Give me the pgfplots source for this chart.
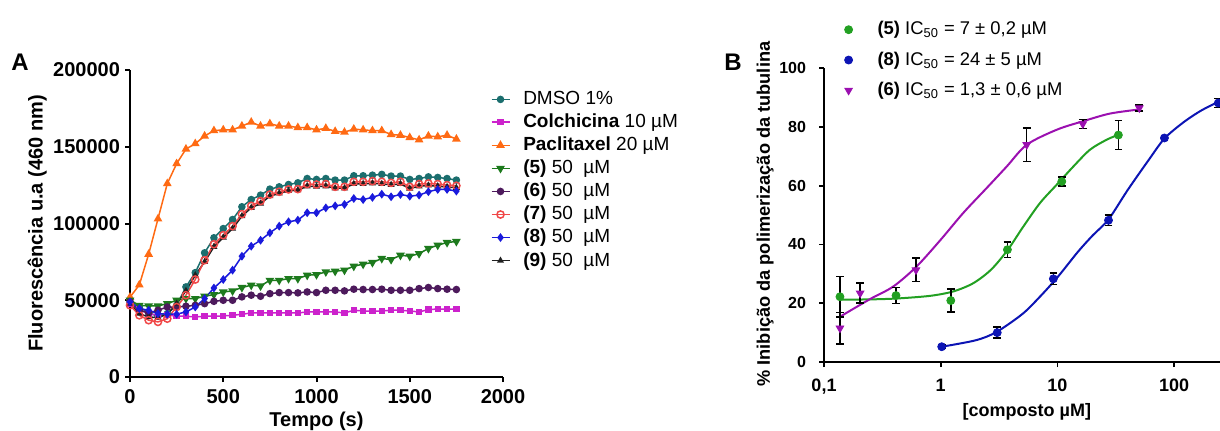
\documentclass[border=0pt]{standalone}
\usepackage{fontspec}
\setmainfont{Liberation Sans}
\usepackage{pgfplots}
\usepackage{pgfplotstable}
\pgfplotsset{compat=1.18}

\definecolor{cDMSO}{RGB}{27,110,110}
\definecolor{cColch}{RGB}{204,34,204}
\definecolor{cPacl}{RGB}{255,106,19}
\definecolor{cFive}{RGB}{29,122,29}
\definecolor{cSix}{RGB}{77,26,92}
\definecolor{cSeven}{RGB}{240,72,72}
\definecolor{cEight}{RGB}{26,26,220}
\definecolor{cNine}{RGB}{32,32,32}
\definecolor{bGreen}{RGB}{34,160,34}
\definecolor{bBlue}{RGB}{12,20,180}
\definecolor{bPurple}{RGB}{155,16,176}

% panel A: fluorescence vs time
\pgfplotstableread{
t dmso colch pacl c5 c6 c7 c8 c9
0 50400 47800 52000 50000 48900 46700 48900 47800
50 45600 43900 60000 46700 43500 40200 44600 41300
100 41700 41300 80000 46300 41700 37000 43500 39100
150 39600 40200 103000 46300 43500 35900 41300 38700
200 41300 40200 126000 47800 45600 38000 40900 40900
250 46700 39800 139000 50000 45600 45600 40900 47800
300 58700 39600 148500 51100 46100 53300 42400 56100
350 68000 39100 152000 51100 46700 63500 45600 66300
400 80900 39600 157000 52600 47800 76100 51100 75000
450 90700 39600 160500 53700 49300 86500 58000 84800
500 96700 39800 161000 55400 50000 92400 63500 90900
550 102600 40200 161000 56100 50000 98300 69600 96700
600 110900 40900 163500 58300 52200 106100 78700 104800
650 115600 41700 166000 59800 53300 111500 85200 110200
700 118500 41700 163500 59300 52600 114600 89100 113000
750 122400 41700 165000 63000 54300 118900 93900 117800
800 123900 41700 163500 63000 55000 120700 98300 119600
850 125400 41700 163500 64100 55000 122200 101100 121300
900 126500 41700 162500 64100 54800 122400 102200 121700
950 129300 42400 162500 66300 55400 125700 107000 124300
1000 128700 42400 161000 66700 55000 125400 107000 124000
1050 129300 42400 162000 68500 56500 125700 110200 124300
1100 128300 42400 160000 68900 56500 123900 111500 123000
1150 128300 41700 159500 69600 56100 123900 112400 123000
1200 131100 43500 161500 72200 57200 127200 116300 125800
1250 131100 43000 161000 73500 57000 127200 115600 125800
1300 131500 43000 160500 74600 57000 127600 117000 126200
1350 132000 43000 160500 77200 57200 127200 119100 125800
1400 130900 43500 158000 76500 56500 126500 117400 125200
1450 130900 43500 157500 79300 56500 127200 118900 125800
1500 128700 43000 156000 78700 56500 123900 117800 122800
1550 129300 42400 154500 80400 57600 125700 118500 124300
1600 130400 43900 157000 83700 58300 126100 120700 124800
1650 130000 44300 156500 85900 57600 125700 122200 124300
1700 129300 44300 157500 87600 57200 125000 122200 123800
1750 128300 44100 155000 88300 57000 124600 121100 123300
}\dataA

% panel B: points with error bars
\pgfplotstableread{
x y e
0.137 22.2 6.9
0.414 22.6 2.7
1.22 20.9 3.85
3.73 38.2 2.7
10.9 61.4 1.5
33.3 77.2 5.0
}\ptFive
\pgfplotstableread{
x y e
1.02 5.2 0.5
3.05 10.0 1.9
9.23 28.3 1.9
27.4 48.2 1.8
82.6 76.2 0.8
239 88.1 1.5
}\ptEight
\pgfplotstableread{
x y e
0.137 11.5 5.4
0.204 23.4 3.4
0.614 31.3 4.0
5.46 73.9 5.7
16.5 81.0 1.5
50.3 86.4 1.0
}\ptSix

% fitted curves
\pgfplotstableread{
x y
0.137 21.2
0.25 21.3
0.42 21.6
0.81 22.5
1.28 24.0
1.9 26.8
2.7 31.4
3.73 38.0
5.11 46.1
7.1 54.1
9.86 60.3
13.7 66.5
19.0 72.2
26.4 75.6
33.3 77.3
}\fitFive
\pgfplotstableread{
x y
1.02 5.2
2 7.4
3 10.2
5 16.3
7 22.0
10 28.8
15 37.5
20 43.0
27.4 48.5
40 58.5
60 68.5
82.6 76.0
120 81.5
170 85.5
239 88.5
300 90.5
}\fitEight
\pgfplotstableread{
x y
0.137 15.4
0.248 21.4
0.393 25.7
0.622 32.5
1.0 41.6
1.56 50.7
2.48 59.2
3.68 66.5
5.46 73.9
9.86 79.0
16.6 81.9
28.2 84.5
50.3 85.9
}\fitSix

\begin{document}
\begin{tikzpicture}
\path[use as bounding box] (0,0) rectangle (610pt,215pt);

\node[font=\fontsize{12}{12}\bfseries\selectfont] at (10pt,184pt) {A};
\node[font=\fontsize{12}{12}\bfseries\selectfont] at (366.5pt,184pt) {B};

\begin{axis}[
 at={(65pt,26.5pt)},anchor=south west,
 scale only axis,width=186.5pt,height=153.5pt,
 xmin=0,xmax=2000,ymin=0,ymax=200000,
 scaled ticks=false,
 axis lines=left,axis line style={-,line width=1pt},
 tick align=outside,major tick length=2.5pt,
 tick style={black,line width=1pt},
 xtick={0,500,1000,1500,2000},xticklabels={0,500,1000,1500,2000},
 ytick={0,50000,100000,150000,200000},yticklabels={0,50000,100000,150000,200000},
 ticklabel style={font=\fontsize{10}{12}\bfseries\selectfont},
 yticklabel style={xshift=1pt},
 xlabel={Tempo (s)},ylabel={Fluorescência u.a (460 nm)},
 every axis x label/.style={at={(axis description cs:0.5,-0.145)},anchor=center,
   font=\fontsize{10}{12}\bfseries\selectfont},
 every axis y label/.style={at={(axis description cs:-0.249,0.5)},rotate=90,anchor=center,
   font=\fontsize{10}{12}\bfseries\selectfont},
 clip=false,
 legend style={at={(0.95,0.945)},anchor=north west,draw=none,fill=none,
   font=\fontsize{9.5}{11}\selectfont,row sep=3.15pt,column sep=6.5pt,
   nodes={inner sep=0pt}},
 legend cell align=left,
 legend image code/.code={\draw[mark repeat=2,mark phase=2] plot coordinates {(0pt,0pt) (4.5pt,0pt) (9pt,0pt)};},
 every axis plot/.append style={line width=0.75pt},
]
\addplot[color=cDMSO,mark=*,mark size=1.5pt] table[x=t,y=dmso]{\dataA};
\addplot[color=cColch,mark=square*,mark size=1.2pt] table[x=t,y=colch]{\dataA};
\addplot[color=cPacl,mark=triangle*,mark size=1.8pt] table[x=t,y=pacl]{\dataA};
\addplot[color=cFive,mark=triangle*,mark size=1.8pt,mark options={rotate=180}] table[x=t,y=c5]{\dataA};
\addplot[color=cSix,mark=*,mark size=1.5pt] table[x=t,y=c6]{\dataA};
\addplot[color=cNine,mark=triangle*,mark size=1.3pt,forget plot] table[x=t,y=c9]{\dataA};
\addplot[color=cSeven,mark=o,mark size=1.8pt] table[x=t,y=c7]{\dataA};
\addplot[color=cEight,mark=diamond*,mark size=1.6pt] table[x=t,y=c8]{\dataA};
\addlegendimage{color=cNine,mark=triangle*,mark size=1.3pt,line width=0.75pt}
\legend{DMSO 1\%,\textbf{Colchicina} 10 µM,\textbf{Paclitaxel} 20 µM,
 \textbf{(5)} 50\ \ µM,\textbf{(6)} 50\ \ µM,\textbf{(7)} 50\ \ µM,
 \textbf{(8)} 50\ \ µM,\textbf{(9)} 50\ \ µM}
\end{axis}

\begin{axis}[
 at={(412pt,34pt)},anchor=south west,
 scale only axis,width=202.9pt,height=147pt,
 xmode=log,xmin=0.1,xmax=300,ymin=0,ymax=100,
 axis lines=left,axis line style={-,line width=0.9pt},
 tick align=outside,major tick length=2.5pt,
 tick style={black,line width=0.9pt},xminorticks=false,
 xtick={0.1,1,10,100},xticklabels={{0,1},1,10,100},
 ytick={0,20,40,60,80,100},yticklabels={0,20,40,60,80,100},
 xticklabel style={font=\fontsize{9}{11}\bfseries\selectfont,yshift=-2.5pt},
 yticklabel style={font=\fontsize{8}{10}\bfseries\selectfont,xshift=-3pt},
 xlabel={{[}composto µM{]}},ylabel={\% Inibição da polimerização da tubulina},
 every axis x label/.style={at={(axis description cs:0.5,-0.17)},anchor=center,
   font=\fontsize{9}{10}\bfseries\selectfont},
 every axis y label/.style={at={(axis description cs:-0.145,0.503)},rotate=90,anchor=center,
   font=\fontsize{9.1}{10}\bfseries\selectfont},
 clip=false,
 legend style={at={(0.035,1.173)},anchor=north west,draw=none,fill=none,
   font=\fontsize{9.2}{11}\selectfont,row sep=7pt,column sep=12.5pt,
   nodes={inner sep=0pt}},
 legend cell align=left,
 legend image code/.code={\draw[mark repeat=2,mark phase=2] plot coordinates {(-3pt,0pt) (0pt,0pt) (3pt,0pt)};},
 errb/.style={error bars/.cd,y dir=both,y explicit,
   error bar style={black,line width=0.75pt},
   error mark options={rotate=90,black,mark size=1.9pt,line width=0.75pt}},
]
\addplot[bGreen,line width=1pt,smooth,forget plot] table[x=x,y=y]{\fitFive};
\addplot[bBlue,line width=1pt,smooth,forget plot] table[x=x,y=y]{\fitEight};
\addplot[bPurple,line width=1pt,smooth,forget plot] table[x=x,y=y]{\fitSix};
\addplot[only marks,color=bGreen,mark=*,mark size=2pt,errb] table[x=x,y=y,y error=e]{\ptFive};
\addlegendentry{\textbf{(5)} IC\textsubscript{50} = 7 ± 0,2 µM}
\addplot[only marks,color=bBlue,mark=*,mark size=2pt,errb] table[x=x,y=y,y error=e]{\ptEight};
\addlegendentry{\textbf{(8)} IC\textsubscript{50} = 24 ± 5 µM}
\addplot[only marks,color=bPurple,mark=triangle*,mark size=2.2pt,mark options={rotate=180},errb] table[x=x,y=y,y error=e]{\ptSix};
\addlegendentry{\textbf{(6)} IC\textsubscript{50} = 1,3 ± 0,6 µM}
\end{axis}
\end{tikzpicture}
\end{document}
